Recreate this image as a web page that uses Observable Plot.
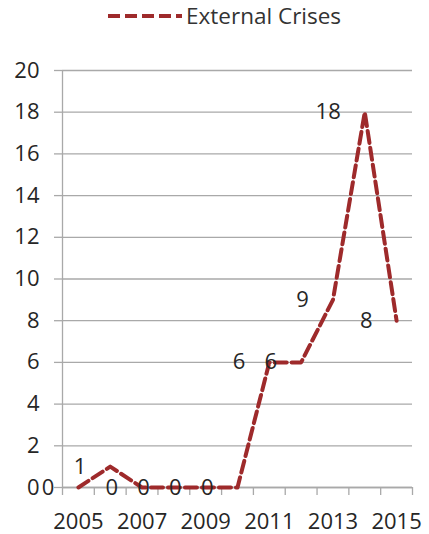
<!DOCTYPE html>
<html>
<head>
<meta charset="utf-8">
<script src="https://cdn.jsdelivr.net/npm/d3@7"></script>
<script src="https://cdn.jsdelivr.net/npm/@observablehq/plot@0.6"></script>
<style>
  body { margin: 0; background: #fff; font-family: "Open Sans", sans-serif; }
  #legend { height: 40px; position: relative; }
  #legend svg { position: absolute; left: 106px; top: 9px; }
  #legend span { position: absolute; left: 186px; top: 0px; font-size: 22.5px; color: #333; line-height: 32px; }
</style>
</head>
<body>
<div id="legend"></div>
<div id="chart"></div>
<script>
// Yearly counts of external crises
const years = [2005, 2006, 2007, 2008, 2009, 2010, 2011, 2012, 2013, 2014, 2015];
const crises = [0, 1, 0, 0, 0, 0, 6, 6, 9, 18, 8];

// Axis ticks
const yTicks = [0, 2, 4, 6, 8, 10, 12, 14, 16, 18, 20];
const xTickLabels = [2005, 2007, 2009, 2011, 2013, 2015];

const seriesName = "External Crises";
const lineColor = "#9e2a2b";
const gridColor = "#a9a9a9";
const textColor = "#262626";
const dash = "12,5";

const data = years.map((year, i) => ({year, value: crises[i]}));
// category boundaries: ticks sit between years
const boundaries = years.map(y => y - 0.5).concat([years[years.length - 1] + 0.5]);

// legend
const legend = document.getElementById("legend");
legend.innerHTML =
  `<svg width="76" height="14"><line x1="2" y1="7" x2="76" y2="7" stroke="${lineColor}" stroke-width="4" stroke-dasharray="${dash}"/></svg>` +
  `<span>${seriesName}</span>`;

const chart = Plot.plot({
  width: 429,
  height: 494,
  marginTop: 30,
  marginBottom: 47,
  marginLeft: 62,
  marginRight: 17,
  style: {fontFamily: "Open Sans, sans-serif", fontSize: "22px", color: textColor, background: "white"},
  x: {domain: [boundaries[0], boundaries[boundaries.length - 1]], label: null},
  y: {domain: [0, 20], label: null},
  marks: [
    Plot.gridY(yTicks, {stroke: gridColor, strokeOpacity: 1, strokeWidth: 1.3}),
    Plot.axisY(yTicks, {tickSize: 8, tickPadding: 15, stroke: gridColor, strokeWidth: 1.3, fill: textColor, fontSize: 22, tickFormat: d => String(d), label: null}),
    Plot.ruleX([boundaries[0]], {stroke: gridColor, strokeWidth: 1.3}),
    Plot.ruleY([0], {stroke: gridColor, strokeWidth: 1.3}),
    Plot.axisX(boundaries, {tickSize: 8, stroke: gridColor, strokeWidth: 1.3, tickFormat: () => "", label: null}),
    Plot.axisX(xTickLabels, {tickSize: 0, tickPadding: 26, fill: textColor, fontSize: 22, tickFormat: d => String(d), label: null}),
    Plot.line(data, {x: "year", y: "value", stroke: lineColor, strokeWidth: 4, strokeDasharray: dash}),
    Plot.text(data, {x: "year", y: "value", text: d => String(d.value), textAnchor: "end", dx: -24, fill: textColor, fontSize: 22})
  ]
});
document.getElementById("chart").appendChild(chart);
</script>
</body>
</html>
